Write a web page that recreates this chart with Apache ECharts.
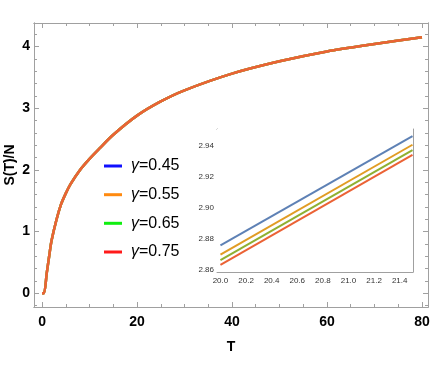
<!DOCTYPE html>
<html><head><meta charset="utf-8">
<script src="https://cdn.jsdelivr.net/npm/echarts@6/dist/echarts.min.js"></script>
<style>html,body{margin:0;padding:0;background:#fff}#c{width:436px;height:382px}</style>
</head><body><div id="c"></div>
<script>
// ---- data ----
const gammaNames = ['γ=0.45', 'γ=0.55', 'γ=0.65', 'γ=0.75'];
// main curve (the four curves coincide at this scale)
const mainT = [0, 0.4, 1, 1.5, 2, 3, 4, 5, 6, 8, 10, 12, 15, 20, 25, 30, 40, 50, 60, 70, 80];
const mainS = [0, 0, 0.33, 0.6, 0.85, 1.18, 1.44, 1.62, 1.77, 2.0, 2.18, 2.34, 2.57, 2.88, 3.11, 3.29, 3.56, 3.76, 3.92, 4.04, 4.15];
// inset (zoom T = 20 .. 21.5)
const insetT = [20.0, 21.5];
const inset045 = [2.876, 2.946];
const inset055 = [2.870, 2.9405];
const inset065 = [2.8665, 2.937];
const inset075 = [2.8635, 2.934];
// tick labels
const xLabels = [0, 20, 40, 60, 80];
const xMinorTicks = [0, 5, 10, 15, 20, 25, 30, 35, 40, 45, 50, 55, 60, 65, 70, 75, 80];
const yLabels = [0, 1, 2, 3, 4];
const yMinorTicks = [-0.2, 0, 0.2, 0.4, 0.6, 0.8, 1, 1.2, 1.4, 1.6, 1.8, 2, 2.2, 2.4, 2.6, 2.8, 3, 3.2, 3.4, 3.6, 3.8, 4, 4.2];
const insetXLabels = [20.0, 20.2, 20.4, 20.6, 20.8, 21.0, 21.2, 21.4];
const insetXTicks = [20.0, 20.1, 20.2, 20.3, 20.4, 20.5, 20.6, 20.7, 20.8, 20.9, 21.0, 21.1, 21.2, 21.3, 21.4, 21.5];
const insetYLabels = [2.86, 2.88, 2.90, 2.92, 2.94];
const insetYTicks = [2.86, 2.87, 2.88, 2.89, 2.90, 2.91, 2.92, 2.93, 2.94, 2.95];

const lineColors = ['#5E81B5', '#E19C24', '#8FB032', '#EB6235'];
const legendColors = ['#1010ff', '#ff8a10', '#10ee10', '#ff1a1a'];
const insetVals = [inset045, inset055, inset065, inset075];

const frame = '#a0a0a0';
const mainFont = {fontFamily: 'Liberation Sans', fontWeight: 'bold', fontSize: 14, color: '#000'};
const insetFont = {fontFamily: 'Liberation Sans', fontSize: 8, color: '#333'};

function pairs(xs, ys) { return xs.map((x, i) => [x, ys[i]]); }

function xAx(grid, min, max, pos, ticks, len, labels, extra) {
  return Object.assign({
    type: 'value', gridIndex: grid, min: min, max: max, position: pos,
    axisLine: {show: true, onZero: false, lineStyle: {color: frame, width: 1}},
    axisTick: {show: true, inside: true, length: len, customValues: ticks, lineStyle: {color: frame}},
    axisLabel: labels ? Object.assign({show: true, customValues: labels}, labels.style) : {show: false},
    splitLine: {show: false}
  }, extra || {});
}

const XMIN = -1.69, XMAX = 81.27, YMIN = -0.222, YMAX = 4.381;
const IXMIN = 19.973, IXMAX = 21.504, IYMIN = 2.8589, IYMAX = 2.9506;

function lbl(arr, style) { arr.style = style; return arr; }

const xAxes = [
  xAx(0, XMIN, XMAX, 'bottom', xLabels, 5, lbl(xLabels.slice(), Object.assign({margin: 8}, mainFont)),
      {name: 'T', nameLocation: 'middle', nameGap: 33, nameMoveOverlap: false, nameTextStyle: mainFont}),
  xAx(0, XMIN, XMAX, 'bottom', xMinorTicks, 3, null),
  xAx(0, XMIN, XMAX, 'top', xLabels, 5, null),
  xAx(0, XMIN, XMAX, 'top', xMinorTicks, 3, null),
  xAx(1, IXMIN, IXMAX, 'bottom', insetXTicks, 3, lbl(insetXLabels.slice(), Object.assign({margin: 5, formatter: v => v.toFixed(1)}, insetFont))),
  xAx(1, IXMIN, IXMAX, 'top', insetXTicks, 3, null)
];
const yAxes = [
  xAx(0, YMIN, YMAX, 'left', yLabels, 5, lbl(yLabels.slice(), Object.assign({margin: 4}, mainFont)),
      {name: 'S(T)/N', nameLocation: 'middle', nameGap: 17, nameMoveOverlap: false, nameRotate: 90, nameTextStyle: mainFont}),
  xAx(0, YMIN, YMAX, 'left', yMinorTicks, 3, null),
  xAx(0, YMIN, YMAX, 'right', yLabels, 5, null),
  xAx(0, YMIN, YMAX, 'right', yMinorTicks, 3, null),
  xAx(1, IYMIN, IYMAX, 'left', insetYTicks, 3, lbl(insetYLabels.slice(), Object.assign({margin: 3, formatter: v => v.toFixed(2)}, insetFont))),
  xAx(1, IYMIN, IYMAX, 'right', insetYTicks, 3, null)
];

const series = [];
gammaNames.forEach((n, i) => {
  series.push({
    name: n, type: 'line', xAxisIndex: 0, yAxisIndex: 0, showSymbol: false, symbol: 'none',
    smooth: 0.3, data: pairs(mainT, mainS),
    lineStyle: {color: lineColors[i], width: 2.5}, itemStyle: {color: lineColors[i]}, z: 2 + i
  });
});
gammaNames.forEach((n, i) => {
  series.push({
    name: n, type: 'line', xAxisIndex: 4, yAxisIndex: 4, showSymbol: false, symbol: 'none',
    data: pairs(insetT, insetVals[i]),
    lineStyle: {color: lineColors[i], width: 2}, itemStyle: {color: lineColors[i]}, z: 10 + i
  });
});

const legendCenters = [167, 195.7, 224.3, 253];
const legends = gammaNames.map((n, i) => ({
  left: 104, top: legendCenters[i] - 9, padding: 0, orient: 'vertical', icon: 'rect',
  itemWidth: 18, itemHeight: 3, selectedMode: false,
  data: [{name: n, itemStyle: {color: legendColors[i]}}],
  formatter: name => '{i|γ}{n|' + name.slice(1) + '}',
  textStyle: {
    fontFamily: 'Liberation Sans', fontSize: 16, color: '#000',
    rich: {
      i: {fontFamily: 'Liberation Sans', fontSize: 16, fontStyle: 'italic', padding: [0, 0, 0, 4]},
      n: {fontFamily: 'Liberation Sans', fontSize: 16}
    }
  }
}));

const chart = echarts.init(document.getElementById('c'), null, {renderer: 'canvas'});
chart.setOption({
  animation: false,
  backgroundColor: '#fff',
  grid: [
    {left: 34, top: 23, width: 394, height: 284, containLabel: false, outerBoundsMode: 'none'},
    {left: 217, top: 129, width: 196, height: 143, containLabel: false, outerBoundsMode: 'none', show: true, backgroundColor: '#fff', borderWidth: 0, z: 5}
  ],
  xAxis: xAxes,
  yAxis: yAxes,
  legend: legends,
  series: series
});
</script></body></html>
